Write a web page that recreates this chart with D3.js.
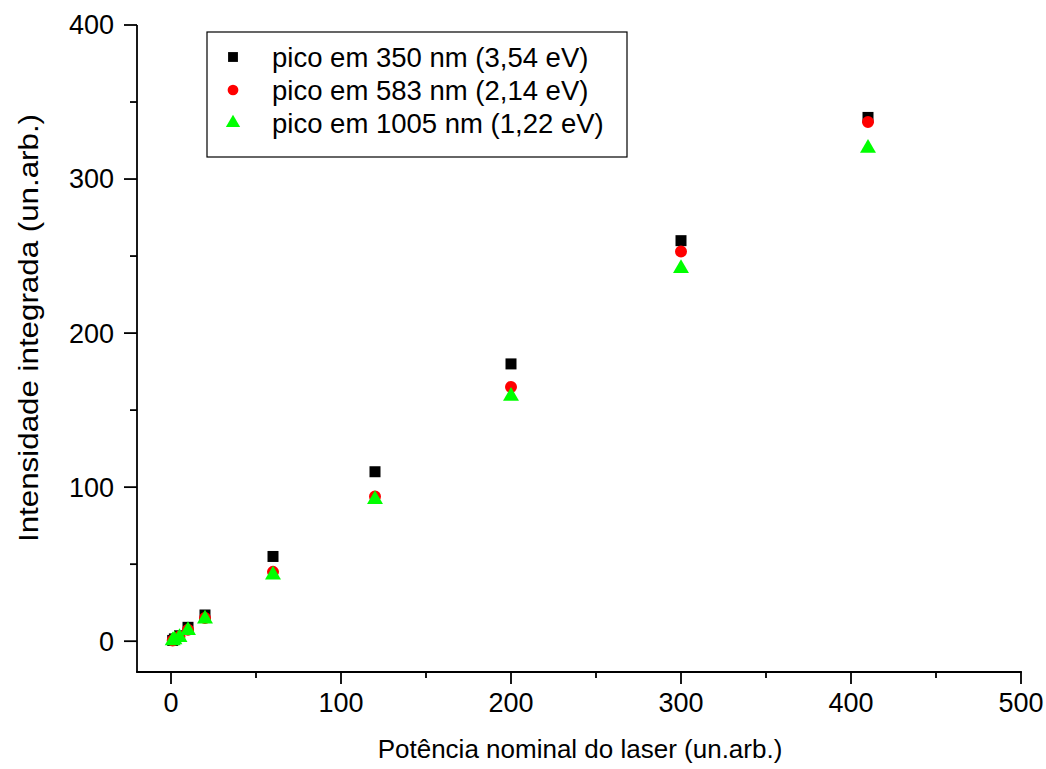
<!DOCTYPE html>
<html>
<head>
<meta charset="utf-8">
<script src="https://cdn.jsdelivr.net/npm/d3@7"></script>
<style>
  body { margin: 0; background: #fff; }
  text { font-family: "Liberation Sans", Arial, sans-serif; fill: #000; }
</style>
</head>
<body>
<svg id="chart" width="1046" height="769"></svg>
<script>
// laser power values (x)
const potencia = [1, 2, 5, 10, 20, 60, 120, 200, 300, 410];
// integrated intensities per peak
const pico350 = [0.5, 1.5, 3.5, 9, 17, 55, 110, 180, 260, 340];
const pico583 = [0.4, 1.2, 3, 7.5, 15, 45, 94, 165, 253, 337];
const pico1005 = [0.3, 1, 2.5, 7, 14.5, 43, 92, 159, 242, 320];

const seriesNames = ['pico em 350 nm (3,54 eV)', 'pico em 583 nm (2,14 eV)', 'pico em 1005 nm (1,22 eV)'];
const xTicks = [0, 100, 200, 300, 400, 500];
const yTicks = [0, 100, 200, 300, 400];

const series = [
  { name: seriesNames[0], values: pico350, shape: d3.symbolSquare, color: '#000000', size: 121 },
  { name: seriesNames[1], values: pico583, shape: d3.symbolCircle, color: '#ff0000', size: 113 },
  { name: seriesNames[2], values: pico1005, shape: d3.symbolTriangle, color: '#00ff00', size: 110 }
];

const svg = d3.select('#chart');
const x = d3.scaleLinear().domain([-20, 500]).range([137, 1021]);
const y = d3.scaleLinear().domain([-20, 400]).range([672, 25]);
const sw = 1.8;

// axes with major + minor ticks
const xAxis = svg.append('g').attr('transform', 'translate(0,672)');
xAxis.append('line').attr('x1', x(-20) - sw / 2).attr('x2', x(500) + sw / 2).attr('stroke', '#000').attr('stroke-width', sw);
xAxis.selectAll('.maj').data(xTicks).enter().append('line')
  .attr('x1', d => x(d)).attr('x2', d => x(d)).attr('y1', 0).attr('y2', 12)
  .attr('stroke', '#000').attr('stroke-width', sw);
xAxis.selectAll('.min').data(xTicks.slice(0, -1).map(d => d + 50)).enter().append('line')
  .attr('x1', d => x(d)).attr('x2', d => x(d)).attr('y1', 0).attr('y2', 6)
  .attr('stroke', '#000').attr('stroke-width', sw);
xAxis.selectAll('text').data(xTicks).enter().append('text')
  .attr('x', d => x(d)).attr('y', 40).attr('text-anchor', 'middle')
  .attr('font-size', 27).text(d => d);

const yAxis = svg.append('g').attr('transform', 'translate(137,0)');
yAxis.append('line').attr('y1', y(-20)).attr('y2', y(400)).attr('stroke', '#000').attr('stroke-width', sw);
yAxis.selectAll('.maj').data(yTicks).enter().append('line')
  .attr('y1', d => y(d)).attr('y2', d => y(d)).attr('x1', 0).attr('x2', -13)
  .attr('stroke', '#000').attr('stroke-width', sw);
yAxis.selectAll('.min').data(yTicks.slice(0, -1).map(d => d + 50)).enter().append('line')
  .attr('y1', d => y(d)).attr('y2', d => y(d)).attr('x1', 0).attr('x2', -7)
  .attr('stroke', '#000').attr('stroke-width', sw);
yAxis.selectAll('text').data(yTicks).enter().append('text')
  .attr('x', -23).attr('y', d => y(d)).attr('dy', '0.35em').attr('text-anchor', 'end')
  .attr('font-size', 27).text(d => d);

// axis titles
svg.append('text').attr('x', 580).attr('y', 758).attr('text-anchor', 'middle')
  .attr('font-size', 26)
  .text('Potência nominal do laser (un.arb.)');
svg.append('text').attr('transform', 'translate(38,328) rotate(-90)').attr('text-anchor', 'middle')
  .attr('font-size', 27).attr('textLength', 428).attr('lengthAdjust', 'spacingAndGlyphs')
  .text('Intensidade integrada (un.arb.)');

// points
series.forEach(s => {
  svg.append('g').selectAll('path').data(s.values).enter().append('path')
    .attr('d', d3.symbol().type(s.shape).size(s.size))
    .attr('transform', (d, i) => `translate(${x(potencia[i])},${y(d)})`)
    .attr('fill', s.color);
});

// legend
const leg = svg.append('g');
leg.append('rect').attr('x', 207).attr('y', 32).attr('width', 420).attr('height', 125)
  .attr('fill', '#fff').attr('stroke', '#000').attr('stroke-width', 1.2);
series.forEach((s, i) => {
  const cy = 57 + i * 33;
  leg.append('path').attr('d', d3.symbol().type(s.shape).size(s.size * 0.8))
    .attr('transform', `translate(233,${cy})`).attr('fill', s.color);
  leg.append('text').attr('x', 272).attr('y', cy).attr('dy', '0.35em')
    .attr('font-size', 27.5).text(s.name);
});
</script>
</body>
</html>
